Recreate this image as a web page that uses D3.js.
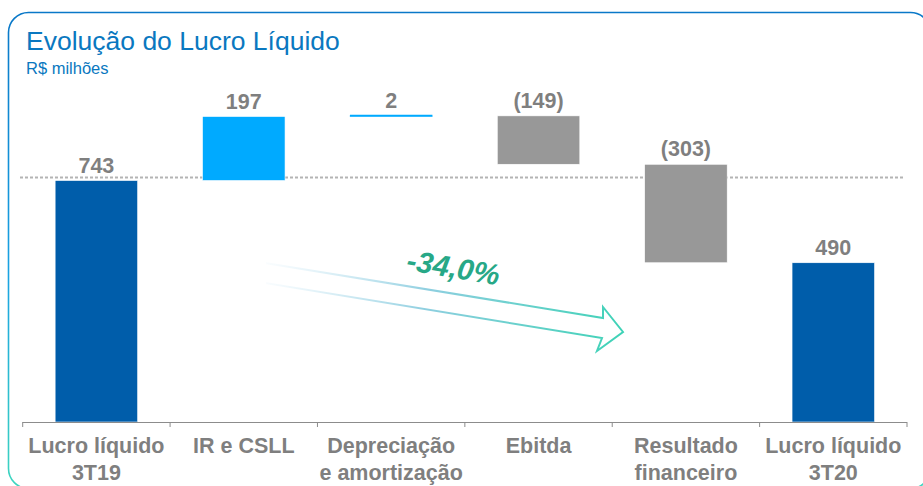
<!DOCTYPE html>
<html>
<head>
<meta charset="utf-8">
<script src="https://cdn.jsdelivr.net/npm/d3@7"></script>
<style>
  body { margin: 0; background: #fff; }
  svg { display: block; font-family: "Liberation Sans", Arial, sans-serif; }
</style>
</head>
<body>
<svg width="923" height="486"></svg>
<script>
// data
const categories = ["Lucro líquido\n3T19", "IR e CSLL", "Depreciação\ne amortização", "Ebitda", "Resultado\nfinanceiro", "Lucro líquido\n3T20"]
const values = [743, 197, 2, -149, -303, 490]
const kinds = ["total", "up", "up", "down", "down", "total"]
const value_labels = ["743", "197", "2", "(149)", "(303)", "490"]
const change_label = "-34,0%"

function assign_fill(k) {
    switch(k) {
        case "total": return "#005DAA"
        case "up": return "#00AAFF"
        case "down": return "#989898"
    }
}

// build waterfall steps
let running = 0
let steps = values.map((v, i) => {
    let d
    if (kinds[i] == "total") { d = {lo: 0, hi: v}; running = v }
    else { d = {lo: Math.min(running, running + v), hi: Math.max(running, running + v)}; running += v }
    return {cat: categories[i], kind: kinds[i], label: value_labels[i], ...d}
})

const svg = d3.select("svg")

let x = d3.scaleBand().domain(categories).range([22.7, 907]).paddingInner(0.44).paddingOuter(0.22)
let y = d3.scaleLinear().domain([0, 1000]).range([422, 97])

// frame
let defs = svg.append("defs")
let frameGrad = defs.append("linearGradient").attr("id", "frameGrad")
    .attr("x1", 0).attr("y1", 0).attr("x2", 0).attr("y2", 1)
frameGrad.append("stop").attr("offset", "0%").attr("stop-color", "#0a78c8")
frameGrad.append("stop").attr("offset", "55%").attr("stop-color", "#1aa3e2")
frameGrad.append("stop").attr("offset", "100%").attr("stop-color", "#3fd6bf")

svg.append("rect")
    .attr("x", 8.5).attr("y", 12.5).attr("width", 922).attr("height", 476)
    .attr("rx", 20).attr("ry", 20)
    .attr("fill", "none").attr("stroke", "url(#frameGrad)").attr("stroke-width", 1.6)

// title
svg.append("text").attr("x", 26).attr("y", 50)
    .attr("font-size", 26.5).attr("fill", "#0a78c0").text("Evolução do Lucro Líquido")
svg.append("text").attr("x", 26).attr("y", 74)
    .attr("font-size", 16.5).attr("fill", "#0a78c0").text("R$ milhões")

// dotted reference line at the starting value
svg.append("line")
    .attr("x1", 20).attr("x2", 905)
    .attr("y1", y(values[0]) - 3).attr("y2", y(values[0]) - 3)
    .attr("stroke", "#b4b4b4").attr("stroke-width", 2).attr("stroke-dasharray", "3,2")

// bars
svg.selectAll("rect.bar")
    .data(steps)
    .join("rect")
    .attr("class", "bar")
    .attr("x", d => x(d.cat))
    .attr("width", x.bandwidth())
    .attr("y", d => y(d.hi))
    .attr("height", d => Math.max(0, y(d.lo) - y(d.hi)))
    .attr("fill", d => assign_fill(d.kind))
    .attr("stroke", "#fff").attr("stroke-width", 0.6)

// tiny deltas drawn as a line
svg.selectAll("line.thin")
    .data(steps.filter(d => y(d.lo) - y(d.hi) < 2))
    .join("line")
    .attr("class", "thin")
    .attr("x1", d => x(d.cat)).attr("x2", d => x(d.cat) + x.bandwidth())
    .attr("y1", d => y(d.hi)).attr("y2", d => y(d.hi))
    .attr("stroke", "#00AAFF").attr("stroke-width", 2)

// value labels
svg.selectAll("text.val")
    .data(steps)
    .join("text")
    .attr("class", "val")
    .attr("x", d => x(d.cat) + x.bandwidth() / 2)
    .attr("y", d => y(d.hi) - 8)
    .attr("text-anchor", "middle")
    .attr("font-size", 21.5).attr("font-weight", "bold").attr("fill", "#7f7f7f")
    .text(d => d.label)

// category axis, ticks at band edges
let step = x.step()
let edges = categories.map(c => x(c) - step * x.paddingInner() / 2)
edges.push(edges[edges.length - 1] + step)
let axis = svg.append("g")
axis.append("line")
    .attr("x1", edges[0]).attr("x2", edges[edges.length - 1])
    .attr("y1", y(0) + 0.5).attr("y2", y(0) + 0.5)
    .attr("stroke", "#8c8c8c").attr("stroke-width", 1)
axis.selectAll("line.tick")
    .data(edges)
    .join("line")
    .attr("class", "tick")
    .attr("x1", d => d).attr("x2", d => d)
    .attr("y1", y(0)).attr("y2", y(0) + 5)
    .attr("stroke", "#8c8c8c").attr("stroke-width", 1)

axis.selectAll("text.cat")
    .data(categories)
    .join("text")
    .attr("class", "cat")
    .attr("x", d => x(d) + x.bandwidth() / 2)
    .attr("y", y(0) + 31)
    .attr("text-anchor", "middle")
    .attr("font-size", 21.5).attr("font-weight", "bold").attr("fill", "#7f7f7f")
    .each(function(d) {
        d.split("\n").forEach((line, i) => {
            d3.select(this).append("tspan")
                .attr("x", x(d) + x.bandwidth() / 2)
                .attr("dy", i == 0 ? 0 : 27)
                .text(line)
        })
    })

// change arrow
let arrowGrad = defs.append("linearGradient").attr("id", "arrowGrad")
    .attr("gradientUnits", "userSpaceOnUse")
    .attr("x1", 265).attr("y1", 273).attr("x2", 623).attr("y2", 332)
arrowGrad.append("stop").attr("offset", "0%").attr("stop-color", "#c9e6f5").attr("stop-opacity", 0.1)
arrowGrad.append("stop").attr("offset", "45%").attr("stop-color", "#8fcfe0")
arrowGrad.append("stop").attr("offset", "100%").attr("stop-color", "#3ed2b6")

let arrow = [[265, 263], [603, 318], [603, 307], [623, 332], [597, 351], [602, 338], [265, 283]]
svg.append("path")
    .attr("d", d3.line()(arrow) + "Z")
    .attr("fill", "none").attr("stroke", "url(#arrowGrad)").attr("stroke-width", 2)
    .attr("stroke-linejoin", "miter")
// hide the tail end of the outline
svg.append("line")
    .attr("x1", 265).attr("y1", 262).attr("x2", 265).attr("y2", 284)
    .attr("stroke", "#fff").attr("stroke-width", 2.5)

svg.append("text")
    .attr("transform", "translate(453,270) rotate(9.5)")
    .attr("text-anchor", "middle").attr("dominant-baseline", "middle")
    .attr("font-size", 29.5).attr("font-weight", "bold").attr("font-style", "italic")
    .attr("fill", "#27a887")
    .text(change_label)
</script>
</body>
</html>
